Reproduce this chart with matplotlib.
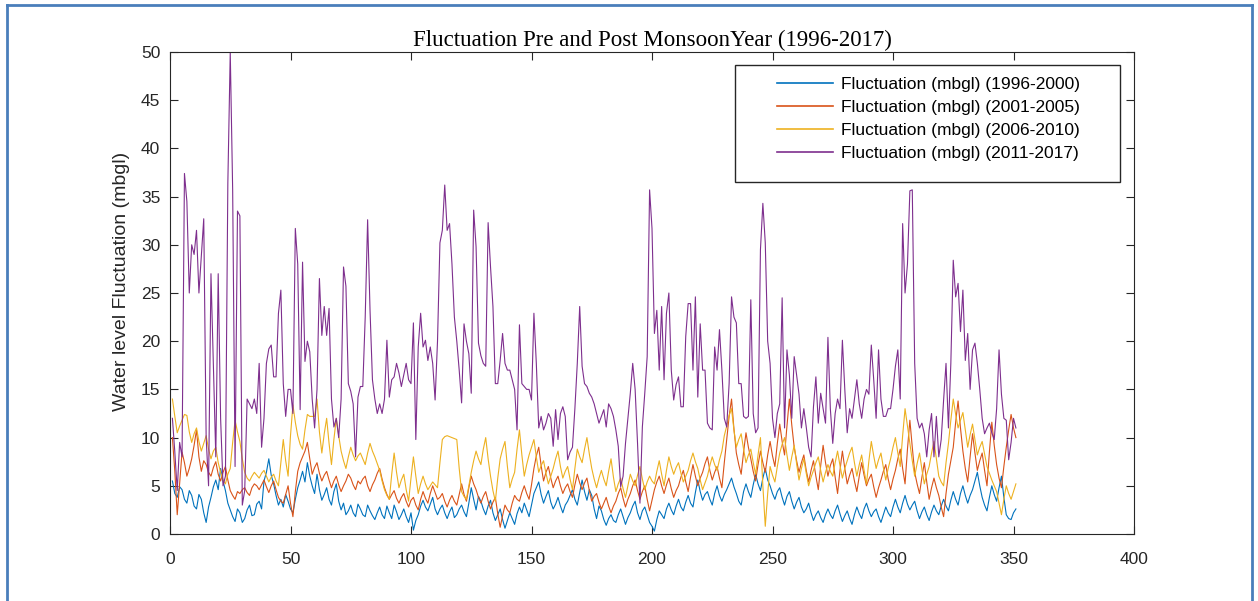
import numpy as np
import matplotlib
matplotlib.use("Agg")
import matplotlib.pyplot as plt
from matplotlib.lines import Line2D
from matplotlib.patches import Rectangle

plt.rcParams['font.family'] = ['Liberation Sans', 'DejaVu Sans']

# one reading per observation, 351 observations, ten per row
fluct_1996_2000 = [
    5.5, 4.2, 3.8, 4.9, 4.6, 3.6, 3.2, 4.5, 4.0, 2.9,
    2.6, 4.1, 3.6, 2.2, 1.2, 2.8, 3.8, 4.9, 5.6, 4.6,
    6.8, 5.5, 4.5, 3.2, 2.5, 1.8, 1.3, 2.6, 2.2, 1.2,
    1.6, 2.5, 3.0, 1.9, 2.0, 3.1, 3.4, 2.6, 5.5, 6.4,
    7.8, 6.1, 5.2, 4.0, 3.0, 3.6, 2.8, 4.1, 3.4, 2.6,
    2.2, 3.6, 4.8, 5.6, 6.5, 5.4, 7.4, 6.0, 5.0, 4.2,
    6.2, 4.6, 3.5, 4.1, 4.8, 3.6, 3.0, 4.4, 5.2, 3.4,
    2.5, 3.2, 2.0, 2.4, 3.0, 2.2, 1.8, 3.1, 2.6, 2.0,
    1.8, 3.0, 2.4, 1.9, 1.5, 2.2, 2.8, 2.0, 1.6, 2.9,
    2.2, 1.6, 3.0, 2.3, 1.5, 2.0, 2.6, 1.8, 1.2, 2.2,
    0.4, 1.4, 2.0, 2.9, 3.5, 2.8, 2.4, 3.1, 3.8, 2.6,
    2.0, 2.6, 3.0, 2.2, 1.6, 2.3, 2.8, 1.7, 2.0, 2.6,
    3.0, 2.3, 1.8, 3.2, 4.8, 3.6, 2.5, 3.9, 3.4, 2.6,
    2.0, 2.9, 3.5, 2.2, 1.4, 2.0, 2.6, 1.5, 0.6, 1.4,
    2.2, 1.6, 1.0, 2.1, 2.8, 2.2, 3.2, 2.5, 1.8, 3.0,
    4.2, 4.8, 5.4, 4.1, 3.2, 3.9, 4.5, 3.3, 2.6, 3.1,
    3.8, 2.9, 2.2, 3.0, 3.4, 4.0, 4.6, 3.6, 3.0, 4.3,
    5.6, 4.4, 3.5, 4.6, 4.0, 2.6, 1.6, 2.9, 2.4, 1.5,
    0.9, 1.6, 2.0, 1.4, 1.2, 2.0, 2.6, 1.8, 1.0, 1.7,
    2.2, 2.9, 3.4, 2.2, 1.5, 2.4, 2.8, 2.0, 1.2, 0.8,
    0.3, 1.5, 2.4, 2.0, 1.6, 2.6, 3.2, 2.5, 2.0, 2.9,
    3.6, 2.8, 2.4, 3.3, 4.0, 3.2, 2.8, 4.3, 5.6, 4.4,
    3.5, 4.1, 4.4, 3.6, 3.0, 4.2, 5.0, 4.0, 3.4, 4.1,
    4.6, 5.2, 5.8, 4.9, 4.2, 3.4, 3.0, 4.4, 5.2, 4.4,
    3.8, 5.1, 6.2, 5.2, 4.5, 5.8, 6.8, 5.6, 5.0, 4.2,
    3.6, 4.4, 4.8, 3.8, 3.0, 3.9, 4.4, 3.4, 2.6, 3.3,
    3.8, 2.8, 2.2, 2.6, 3.2, 2.2, 1.4, 2.0, 2.4, 1.7,
    1.2, 2.0, 2.6, 2.0, 1.6, 2.4, 3.0, 2.1, 1.3, 1.9,
    2.4, 1.6, 1.0, 2.0, 2.8, 2.1, 1.6, 2.6, 3.2, 2.4,
    1.8, 2.3, 2.6, 1.8, 1.2, 2.0, 2.8, 2.2, 1.8, 2.8,
    3.6, 2.8, 2.2, 3.2, 4.0, 3.1, 2.5, 3.0, 3.4, 2.4,
    1.6, 2.3, 2.8, 2.0, 1.4, 2.3, 3.0, 2.4, 2.0, 2.9,
    3.6, 2.9, 2.4, 3.5, 4.4, 3.6, 3.0, 4.2, 5.0, 4.0,
    3.2, 4.0, 4.6, 5.5, 6.4, 5.0, 3.8, 3.0, 2.4, 3.8,
    5.0, 4.1, 3.4, 4.8, 6.0, 3.8, 2.0, 1.6, 1.5, 2.2,
    2.6,
]
fluct_2001_2005 = [
    10.0, 6.5, 2.0, 5.2, 8.5, 7.4, 6.0, 6.8, 7.8, 9.2,
    10.8, 8.0, 6.5, 7.6, 7.2, 6.4, 6.0, 6.9, 7.5, 6.2,
    5.5, 6.4, 7.0, 5.6, 4.5, 4.0, 3.6, 4.4, 4.2, 4.6,
    4.8, 4.3, 4.0, 4.8, 5.2, 5.0, 4.6, 5.1, 5.6, 4.9,
    4.3, 5.0, 5.5, 4.6, 3.8, 3.4, 3.2, 4.1, 5.0, 3.2,
    1.8, 4.4, 6.5, 7.4, 8.0, 8.6, 9.5, 7.8, 6.2, 6.9,
    7.4, 6.3, 5.5, 6.1, 6.5, 5.6, 4.8, 5.5, 6.0, 5.1,
    4.4, 5.0, 5.5, 6.2, 5.8, 5.1, 4.6, 5.5, 5.2, 5.7,
    6.0, 5.0, 4.4, 5.1, 5.6, 6.3, 6.8, 5.7, 4.8, 4.1,
    3.6, 4.1, 4.5, 3.7, 3.2, 3.8, 4.2, 3.4, 2.8, 3.5,
    3.8, 3.0, 2.5, 3.6, 4.4, 3.7, 3.2, 4.2, 5.0, 4.3,
    3.6, 3.8, 4.2, 3.4, 2.8, 3.5, 4.0, 3.4, 3.0, 4.1,
    5.2, 4.1, 3.4, 4.8, 6.0, 5.2, 4.6, 3.8, 3.2, 3.9,
    4.4, 3.4, 2.6, 3.3, 3.8, 2.1, 0.7, 1.9, 3.0, 2.5,
    2.2, 3.2, 4.0, 3.6, 3.4, 4.3, 5.0, 4.2, 3.6, 5.1,
    6.8, 8.1, 9.0, 7.1, 5.5, 6.4, 7.0, 5.8, 4.8, 5.5,
    6.0, 5.0, 4.2, 4.8, 5.2, 4.4, 3.8, 5.1, 6.2, 5.3,
    4.6, 5.3, 5.8, 4.5, 3.4, 3.9, 4.2, 3.3, 2.6, 3.2,
    3.8, 2.9, 2.2, 2.9, 3.4, 4.2, 4.8, 3.7, 2.8, 3.6,
    4.2, 5.0, 5.6, 4.5, 3.6, 4.4, 5.0, 3.6, 2.4, 3.5,
    4.6, 5.4, 6.0, 5.0, 4.2, 5.1, 5.8, 4.7, 3.8, 4.5,
    5.0, 5.9, 6.6, 5.4, 4.4, 5.9, 7.2, 6.0, 5.0, 5.8,
    6.4, 7.3, 8.0, 6.6, 5.6, 6.4, 7.0, 5.8, 4.8, 7.4,
    9.8, 12.2, 14.0, 10.9, 8.4, 7.2, 6.2, 8.5, 10.5, 9.0,
    7.8, 6.5, 5.5, 7.2, 8.6, 7.4, 6.4, 8.2, 9.6, 8.1,
    7.0, 9.4, 11.4, 9.6, 8.2, 11.2, 14.0, 11.3, 9.0, 7.6,
    6.4, 7.4, 8.2, 6.6, 5.4, 6.6, 7.6, 6.0, 4.6, 7.1,
    9.2, 7.4, 6.0, 7.1, 7.8, 5.9, 4.2, 6.6, 8.6, 6.8,
    5.2, 6.1, 6.8, 5.5, 4.4, 6.0, 7.4, 6.1, 5.0, 5.7,
    6.2, 4.9, 3.8, 4.8, 5.6, 6.5, 7.2, 5.7, 4.6, 5.7,
    6.6, 7.8, 8.8, 6.8, 5.2, 8.8, 11.8, 9.0, 6.4, 5.2,
    4.2, 5.9, 7.4, 5.4, 3.6, 4.8, 5.8, 4.8, 4.0, 2.8,
    1.8, 4.2, 6.2, 7.6, 9.0, 11.6, 13.8, 11.0, 8.6, 6.8,
    5.4, 8.0, 10.4, 8.4, 6.6, 7.6, 8.4, 6.6, 5.0, 8.5,
    11.6, 9.2, 7.2, 5.8, 4.8, 7.0, 9.0, 10.8, 12.4, 11.0,
    10.0,
]
fluct_2006_2010 = [
    14.0, 12.2, 10.5, 11.2, 11.8, 12.4, 12.3, 10.6, 9.5, 10.4,
    11.0, 9.6, 8.6, 9.4, 10.2, 8.8, 7.8, 8.6, 9.0, 7.4,
    6.4, 5.6, 5.2, 6.2, 6.8, 9.5, 11.8, 10.6, 9.6, 7.8,
    6.4, 5.8, 5.5, 6.0, 6.4, 6.1, 5.8, 6.3, 6.6, 6.0,
    5.4, 5.9, 6.2, 5.5, 5.0, 7.4, 9.8, 7.6, 6.0, 10.2,
    13.4, 11.6, 10.2, 9.3, 8.8, 10.8, 12.4, 12.2, 12.2, 12.2,
    14.0, 10.6, 8.4, 10.4, 12.0, 9.4, 7.2, 9.8, 12.0, 10.2,
    8.6, 7.6, 6.8, 8.0, 9.0, 8.2, 7.6, 8.1, 8.4, 7.8,
    7.2, 8.4, 9.4, 8.6, 8.0, 7.3, 6.6, 5.5, 4.6, 4.0,
    3.6, 6.2, 8.4, 6.4, 4.8, 5.6, 6.2, 4.6, 3.4, 5.8,
    8.0, 6.0, 4.2, 5.2, 6.0, 5.2, 4.6, 5.0, 5.4, 5.1,
    4.8, 7.4, 9.8, 10.1, 10.2, 10.1, 10.0, 9.9, 9.8, 6.8,
    4.4, 3.9, 3.6, 5.0, 6.4, 7.6, 8.6, 7.8, 7.2, 8.8,
    10.0, 7.8, 6.0, 4.5, 3.4, 5.8, 7.8, 8.8, 9.6, 7.0,
    4.8, 5.7, 6.4, 8.8, 10.8, 8.2, 6.0, 7.2, 8.2, 9.0,
    9.8, 8.0, 6.4, 7.1, 7.6, 6.3, 5.2, 6.0, 6.8, 7.8,
    8.6, 7.0, 5.8, 6.5, 7.0, 5.7, 4.6, 6.8, 8.8, 8.0,
    7.4, 8.8, 10.0, 8.3, 6.8, 5.7, 4.8, 5.8, 6.6, 5.7,
    5.0, 6.5, 7.8, 5.9, 4.4, 5.2, 5.8, 4.7, 3.8, 5.0,
    6.2, 5.5, 5.0, 6.1, 7.0, 5.7, 4.6, 5.4, 6.0, 5.5,
    5.2, 6.5, 7.6, 6.2, 5.0, 6.6, 8.0, 7.0, 6.2, 6.9,
    7.4, 6.3, 5.4, 6.0, 6.6, 7.6, 8.4, 7.5, 6.8, 5.6,
    4.6, 5.3, 6.0, 7.1, 8.0, 7.2, 6.6, 7.7, 8.6, 10.2,
    11.2, 12.3, 13.0, 10.8, 9.0, 9.8, 10.4, 8.8, 7.4, 8.2,
    8.8, 7.4, 6.2, 8.2, 10.0, 5.0, 0.8, 4.2, 7.0, 6.1,
    5.4, 7.0, 8.4, 9.3, 10.0, 8.2, 6.6, 8.0, 9.2, 7.3,
    5.6, 6.8, 7.8, 6.3, 5.0, 5.9, 6.6, 7.4, 8.0, 6.6,
    5.4, 6.4, 7.2, 6.5, 6.0, 7.4, 8.6, 7.1, 5.8, 6.8,
    7.6, 8.4, 9.0, 7.4, 6.0, 7.2, 8.2, 6.6, 5.2, 7.6,
    9.6, 8.1, 6.8, 7.7, 8.4, 6.9, 5.6, 6.8, 7.8, 9.0,
    10.0, 8.4, 7.0, 10.2, 13.0, 11.2, 9.4, 7.6, 6.0, 7.3,
    8.4, 6.7, 5.2, 6.2, 7.0, 8.4, 9.6, 7.8, 6.0, 5.4,
    5.0, 7.4, 9.4, 11.8, 14.0, 12.4, 11.0, 11.8, 12.6, 10.8,
    9.0, 10.3, 11.4, 9.8, 8.2, 9.0, 9.6, 8.3, 7.0, 6.3,
    5.6, 5.0, 4.4, 3.2, 2.0, 3.6, 5.0, 4.2, 3.6, 4.4,
    5.2,
]
fluct_2011_2017 = [
    12.0, 8.5, 4.5, 9.5, 8.0, 37.4, 34.5, 25.0, 30.0, 29.0,
    31.5, 25.0, 28.8, 32.7, 10.0, 5.0, 27.0, 17.7, 8.0, 27.0,
    12.0, 5.0, 6.0, 36.4, 50.0, 35.7, 7.0, 33.5, 33.0, 3.0,
    4.5, 14.0, 13.5, 13.0, 14.0, 12.5, 17.7, 9.0, 12.0, 17.7,
    19.2, 19.6, 16.3, 16.3, 22.9, 25.3, 15.6, 12.2, 15.0, 15.0,
    12.5, 31.7, 28.0, 12.9, 28.2, 17.9, 20.0, 18.9, 14.0, 11.0,
    15.0, 26.5, 20.6, 23.6, 20.6, 23.4, 14.0, 11.1, 12.0, 10.0,
    14.0, 27.7, 25.7, 15.6, 14.8, 13.5, 8.0, 14.2, 15.3, 15.3,
    22.5, 32.6, 23.2, 16.0, 14.0, 12.5, 13.5, 12.5, 14.0, 20.1,
    14.2, 16.0, 16.3, 17.7, 16.7, 15.3, 16.5, 17.7, 16.0, 15.6,
    21.9, 9.8, 19.4, 22.9, 19.4, 20.1, 18.0, 19.4, 17.7, 13.9,
    20.0, 30.2, 31.5, 36.2, 31.5, 32.2, 28.0, 22.5, 20.0, 17.0,
    13.6, 21.8, 20.0, 18.7, 14.6, 33.6, 29.8, 19.8, 18.5, 17.7,
    17.4, 32.3, 27.7, 23.6, 15.6, 15.6, 18.0, 20.8, 17.7, 17.0,
    17.0, 16.0, 15.0, 10.8, 21.7, 15.6, 15.3, 15.0, 15.0, 13.9,
    22.9, 17.7, 11.0, 12.2, 10.8, 11.5, 12.5, 12.0, 9.1, 12.9,
    9.8, 12.5, 13.2, 12.2, 7.7, 8.5, 9.0, 13.0, 17.7, 23.6,
    17.4, 15.6, 15.3, 14.6, 14.2, 13.5, 12.5, 11.5, 12.2, 12.9,
    11.1, 13.5, 13.0, 12.2, 10.8, 9.1, 4.9, 6.0, 9.4, 12.0,
    14.6, 17.7, 15.0, 9.4, 3.2, 11.1, 14.6, 18.4, 35.7, 31.7,
    20.8, 23.2, 17.0, 23.6, 16.0, 22.9, 25.0, 17.0, 13.9, 15.5,
    16.3, 13.2, 13.2, 20.5, 23.9, 23.9, 17.0, 24.6, 14.2, 21.8,
    17.0, 17.0, 11.5, 11.0, 10.8, 19.4, 17.0, 21.2, 17.0, 12.0,
    11.1, 15.6, 24.6, 22.5, 21.9, 15.6, 15.6, 12.2, 12.0, 12.2,
    24.3, 12.5, 10.5, 11.0, 29.5, 34.3, 30.2, 20.0, 17.7, 12.0,
    10.0, 12.5, 13.5, 24.5, 11.0, 19.1, 16.5, 12.0, 18.4, 16.5,
    14.5, 11.0, 13.0, 11.1, 9.0, 8.0, 13.2, 16.3, 11.5, 14.6,
    13.0, 11.5, 20.4, 13.0, 9.4, 12.5, 14.0, 13.0, 20.1, 15.0,
    10.5, 13.0, 12.0, 14.0, 16.0, 13.5, 12.0, 14.0, 15.0, 14.5,
    19.6, 16.0, 12.0, 19.1, 14.0, 12.2, 12.2, 13.0, 13.0, 15.0,
    17.4, 19.1, 14.0, 32.2, 25.0, 28.0, 35.6, 35.7, 17.7, 12.0,
    11.0, 11.5, 10.4, 8.0, 10.8, 12.5, 8.0, 12.2, 8.0, 9.8,
    13.9, 17.7, 11.0, 17.7, 28.4, 24.6, 26.0, 21.0, 25.3, 18.0,
    20.8, 15.0, 19.1, 19.8, 17.7, 15.0, 12.0, 10.4, 11.0, 11.5,
    10.5, 9.8, 13.0, 19.1, 14.5, 12.0, 11.8, 7.7, 9.5, 12.0,
    11.0,
]

series = [
    ('Fluctuation (mbgl) (1996-2000)', fluct_1996_2000, '#0072BD'),
    ('Fluctuation (mbgl) (2001-2005)', fluct_2001_2005, '#D95319'),
    ('Fluctuation (mbgl) (2006-2010)', fluct_2006_2010, '#EDB120'),
    ('Fluctuation (mbgl) (2011-2017)', fluct_2011_2017, '#7E2F8E'),
]

W, H = 1258, 601
fig = plt.figure(figsize=(W / 100, H / 100), dpi=100)
ax = fig.add_axes([170 / W, (H - 534) / H, (1134 - 170) / W, (534 - 52) / H])

for name, vals, col in series:
    x = np.arange(1, len(vals) + 1)
    ax.plot(x, vals, color=col, lw=0.8, label=name)

ax.set_xlim(0, 400)
ax.set_ylim(0, 50)
ax.set_xticks(np.arange(0, 401, 50))
ax.set_yticks(np.arange(0, 51, 5))
ax.tick_params(direction='in', length=6, width=0.8, top=True, right=True,
               labelsize=12.5, colors='#262626')
ax.tick_params(axis='x', pad=13)
ax.tick_params(axis='y', pad=7)
for sp in ax.spines.values():
    sp.set_linewidth(0.8)
    sp.set_color('#262626')

ax.set_ylabel('Water level Fluctuation (mbgl)', fontsize=14, color='#262626')
ax.yaxis.set_label_coords(-0.041, 0.525)
ax.set_title('Fluctuation Pre and Post MonsoonYear (1996-2017)', family='Liberation Serif',
             fontsize=16.5, pad=4)

# legend box drawn separately so the inner margins match the original
ax.add_patch(Rectangle((0.586, 0.730), 0.3995, 0.243, transform=ax.transAxes,
                       facecolor='white', edgecolor='#262626', lw=1.0, zorder=4))
leg = ax.legend(loc='upper left', bbox_to_anchor=(0.630, 0.948), frameon=False,
                borderpad=0, borderaxespad=0, handlelength=3.2, handletextpad=0.45,
                labelspacing=0.45, fontsize=12.5)
leg.set_zorder(5)
for h in leg.get_lines():
    h.set_linewidth(1.2)

# blue picture border
bc = '#4a7ebb'
fig.add_artist(Line2D([7 / W, 7 / W], [0, 1 - 5 / H], color=bc, lw=2))
fig.add_artist(Line2D([7 / W, 1252 / W], [1 - 5 / H, 1 - 5 / H], color=bc, lw=2))
fig.add_artist(Line2D([1252 / W, 1252 / W], [0, 1 - 5 / H], color=bc, lw=2))

fig.savefig('out.png', dpi=100)
